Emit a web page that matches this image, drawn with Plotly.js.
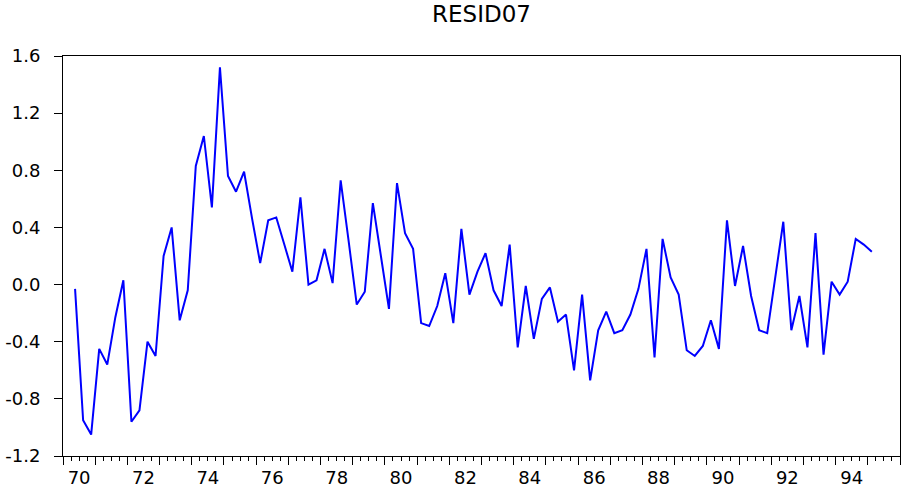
<!DOCTYPE html>
<html>
<head>
<meta charset="utf-8">
<script src="https://cdn.plot.ly/plotly-3.0.1.min.js"></script>
<style>html,body{margin:0;padding:0;background:#fff}</style>
</head>
<body>
<div id="chart" style="width:903px;height:490px"></div>
<script>
// Quarterly residuals, 1970Q2 .. 1995Q1
var startYear = 70;
var startQuarter = 2;
var resid07 = [
  -0.03, -0.95, -1.05, -0.45, -0.56, -0.23, 0.03, -0.96, -0.88, -0.40,
  -0.50, 0.20, 0.40, -0.25, -0.04, 0.83, 1.04, 0.54, 1.52, 0.76,
  0.65, 0.79, 0.46, 0.15, 0.45, 0.47, 0.28, 0.09, 0.61, 0.00,
  0.03, 0.25, 0.01, 0.73, 0.30, -0.14, -0.05, 0.57, 0.20, -0.17,
  0.71, 0.36, 0.25, -0.27, -0.29, -0.15, 0.08, -0.27, 0.39, -0.07,
  0.09, 0.22, -0.04, -0.15, 0.28, -0.44, -0.01, -0.38, -0.10, -0.02,
  -0.26, -0.21, -0.60, -0.07, -0.67, -0.32, -0.19, -0.34, -0.32, -0.21,
  -0.03, 0.25, -0.51, 0.32, 0.05, -0.07, -0.46, -0.50, -0.43, -0.25,
  -0.45, 0.45, -0.01, 0.27, -0.08, -0.32, -0.34, 0.05, 0.44, -0.32,
  -0.08, -0.44, 0.36, -0.49, 0.02, -0.07, 0.02, 0.32, 0.28, 0.23
];
var xLabelYears = [70, 72, 74, 76, 78, 80, 82, 84, 86, 88, 90, 92, 94];
var xLabelText = ["70","72","74","76","78","80","82","84","86","88","90","92","94"];
var yTickVals = [-1.2, -0.8, -0.4, 0.0, 0.4, 0.8, 1.2, 1.6];
var yTickText = ["-1.2","-0.8","-0.4","0.0","0.4","0.8","1.2","1.6"];
var titleText = "RESID07";

// period midpoints
var xs = resid07.map(function (v, i) {
  var q = startQuarter - 1 + i;
  return startYear + Math.floor(q / 4) + ((q % 4) + 0.5) / 4;
});
var labelPos = xLabelYears.map(function (y) { return y + 0.5; });

var font = "DejaVu Sans, Arial, sans-serif";

var traces = [
  {x: xs, y: resid07, type: "scatter", mode: "lines",
   line: {color: "#0000ff", width: 2}, hoverinfo: "skip", showlegend: false},
  {x: [labelPos[0]], y: [0], xaxis: "x2", type: "scatter", mode: "markers",
   marker: {opacity: 0}, hoverinfo: "skip", showlegend: false}
];

var layout = {
  width: 903, height: 490,
  margin: {l: 63, r: 3, t: 56, b: 34},
  paper_bgcolor: "#ffffff", plot_bgcolor: "#ffffff",
  showlegend: false,
  title: {text: titleText, x: 0.5, xref: "paper", y: 0.971, yref: "container",
          yanchor: "middle", font: {family: font, size: 23, color: "#000"}},
  xaxis: {
    range: [70, 96], tickmode: "linear", tick0: 70, dtick: 1,
    ticks: "outside", ticklen: 8, tickwidth: 1, tickcolor: "#000",
    showticklabels: false, showgrid: false, zeroline: false,
    showline: true, linecolor: "#000", linewidth: 1, mirror: true,
    minor: {tickmode: "linear", tick0: 70, dtick: 0.25, ticks: "outside",
            ticklen: 4, tickwidth: 1, tickcolor: "#000", showgrid: false}
  },
  xaxis2: {
    overlaying: "x", matches: "x", anchor: "y", side: "bottom",
    tickmode: "array", tickvals: labelPos, ticktext: xLabelText,
    ticks: "", showline: false, showgrid: false, zeroline: false,
    ticklabelstandoff: 9,
    tickfont: {family: font, size: 18, color: "#000"}
  },
  yaxis: {
    range: [-1.2, 1.6], tickmode: "array", tickvals: yTickVals, ticktext: yTickText,
    ticks: "outside", ticklen: 8, tickwidth: 1, tickcolor: "#000",
    ticklabelstandoff: 10,
    tickfont: {family: font, size: 18, color: "#000"},
    showgrid: false, zeroline: false,
    showline: true, linecolor: "#000", linewidth: 1, mirror: true
  }
};

Plotly.newPlot("chart", traces, layout, {displayModeBar: false, staticPlot: true});
</script>
</body>
</html>
